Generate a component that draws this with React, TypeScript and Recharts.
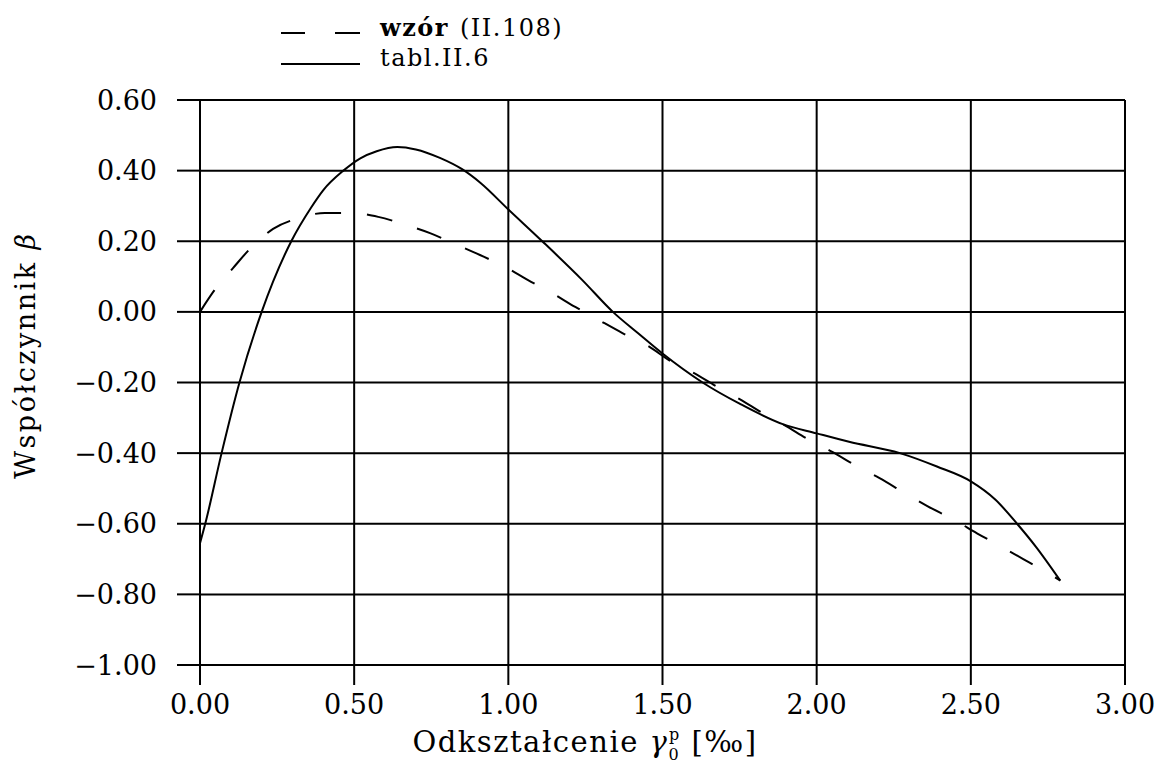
import { CartesianGrid, Line, LineChart, XAxis, YAxis } from "recharts";

// wzór (II.108) – dashed
const wzorX = [0, 0.05, 0.107, 0.168, 0.237, 0.318, 0.405, 0.49, 0.578, 0.668, 0.746, 0.827, 0.908, 0.99, 1.064, 1.142, 1.217, 1.287, 1.37, 1.45, 1.54, 1.595, 1.673, 1.75, 1.828, 1.894, 1.977, 2.049, 2.132, 2.204, 2.287, 2.359, 2.448, 2.52, 2.597, 2.67, 2.75, 2.79];
const wzorY = [0, 0.065, 0.124, 0.184, 0.235, 0.265, 0.28, 0.28, 0.269, 0.246, 0.223, 0.192, 0.161, 0.127, 0.09, 0.053, 0.014, -0.02, -0.06, -0.095, -0.147, -0.17, -0.21, -0.247, -0.288, -0.32, -0.363, -0.396, -0.438, -0.471, -0.514, -0.55, -0.59, -0.627, -0.664, -0.7, -0.74, -0.761];

// tabl.II.6 – solid
const tablX = [0, 0.017, 0.07, 0.128, 0.2, 0.296, 0.36, 0.4, 0.465, 0.52, 0.573, 0.64, 0.7, 0.778, 0.85, 0.91, 1.0, 1.11, 1.24, 1.339, 1.42, 1.5, 1.63, 1.75, 1.89, 2.0, 2.105, 2.27, 2.39, 2.5, 2.58, 2.65, 2.71, 2.79];
const tablY = [-0.655, -0.6, -0.4, -0.2, 0.0, 0.2, 0.295, 0.345, 0.4, 0.435, 0.455, 0.467, 0.46, 0.436, 0.404, 0.365, 0.29, 0.2, 0.09, 0.0, -0.06, -0.118, -0.2, -0.26, -0.318, -0.344, -0.368, -0.4, -0.438, -0.48, -0.532, -0.6, -0.664, -0.761];

const xTicks = [0, 0.5, 1, 1.5, 2, 2.5, 3];
const yTicks = [-1, -0.8, -0.6, -0.4, -0.2, 0, 0.2, 0.4, 0.6];

const wzorData = wzorX.map((x, i) => ({ x, y: wzorY[i] }));
const tablData = tablX.map((x, i) => ({ x, y: tablY[i] }));

const font = "'DejaVu Serif', serif";
const fmt = (v: number) => v.toFixed(2).replace("-", "\u2212");

function YLabel() {
  return (
    <text
      x={35}
      y={355}
      transform="rotate(-90 35 355)"
      textAnchor="middle"
      fontFamily={font}
      fontSize={27}
      letterSpacing={2.5}
      fill="#000"
    >
      Współczynnik <tspan fontStyle="italic">β</tspan>
    </text>
  );
}

function XLabel() {
  return (
    <text x={585} y={752} textAnchor="middle" fontFamily={font} fontSize={29} letterSpacing={1.5} fill="#000">
      Odkształcenie <tspan fontStyle="italic">γ</tspan>
      <tspan fontSize={16} dy={8}>0</tspan>
      <tspan fontSize={16} dx={-11} dy={-20}>p</tspan>
      <tspan dy={12}> [‰]</tspan>
    </text>
  );
}

export default function App() {
  return (
    <div style={{ position: "absolute", left: 0, top: 0, width: 1155, height: 768, background: "#fff" }}>
      <LineChart
        width={1155}
        height={768}
        margin={{ top: 100, right: 30, bottom: 0, left: 0 }}
      >
        <CartesianGrid stroke="#000" strokeWidth={2} />
        <XAxis
          type="number"
          dataKey="x"
          domain={[0, 3]}
          ticks={xTicks}
          tickFormatter={fmt}
          height={103}
          tickSize={20}
          tickMargin={10}
          stroke="#000"
          strokeWidth={2}
          tick={{ fill: "#000", fontFamily: font, fontSize: 27 }}
          allowDataOverflow
        />
        <YAxis
          type="number"
          domain={[-1, 0.6]}
          ticks={yTicks}
          tickFormatter={fmt}
          width={200}
          tickSize={23}
          tickMargin={20}
          stroke="#000"
          strokeWidth={2}
          tick={{ fill: "#000", fontFamily: font, fontSize: 27 }}
          allowDataOverflow
        />
        <Line
          data={wzorData}
          dataKey="y"
          type="monotone"
          stroke="#000"
          strokeWidth={2}
          strokeDasharray="26 26"
          dot={false}
          isAnimationActive={false}
        />
        <Line
          data={tablData}
          dataKey="y"
          type="monotone"
          stroke="#000"
          strokeWidth={2}
          dot={false}
          isAnimationActive={false}
        />
        <YLabel />
        <XLabel />
      </LineChart>
      <svg
        width={500}
        height={80}
        style={{ position: "absolute", left: 260, top: 0 }}
      >
        <line x1={21} y1={33} x2={45} y2={33} stroke="#000" strokeWidth={2} />
        <line x1={75} y1={33} x2={100} y2={33} stroke="#000" strokeWidth={2} />
        <line x1={21} y1={64} x2={100} y2={64} stroke="#000" strokeWidth={2} />
        <text x={120} y={36} fontFamily={font} fontSize={24} fontWeight="bold" letterSpacing={1.5} fill="#000">
          wzór
        </text>
        <text x={200} y={36} fontFamily={font} fontSize={24} letterSpacing={1.5} fill="#000">
          (II.108)
        </text>
        <text x={120} y={66} fontFamily={font} fontSize={24} letterSpacing={1.5} fill="#000">
          tabl.II.6
        </text>
      </svg>
    </div>
  );
}
